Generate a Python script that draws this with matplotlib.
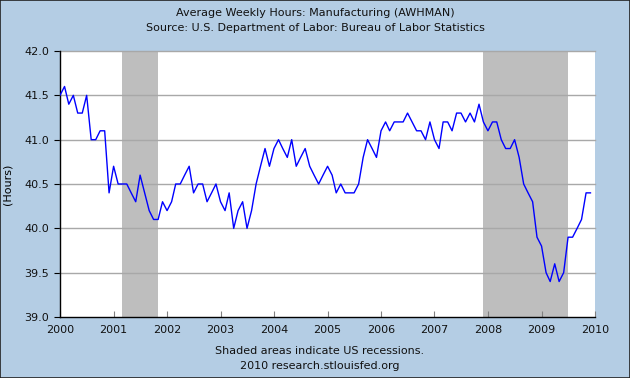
import matplotlib
matplotlib.use('Agg')
import matplotlib.pyplot as plt
import matplotlib.dates as mdates
from matplotlib.patches import Rectangle
import pandas as pd

# Monthly average weekly hours, Jan 2000 - Dec 2009
hours_2000 = [41.5, 41.6, 41.4, 41.5, 41.3, 41.3, 41.5, 41.0, 41.0, 41.1, 41.1, 40.4]
hours_2001 = [40.7, 40.5, 40.5, 40.5, 40.4, 40.3, 40.6, 40.4, 40.2, 40.1, 40.1, 40.3]
hours_2002 = [40.2, 40.3, 40.5, 40.5, 40.6, 40.7, 40.4, 40.5, 40.5, 40.3, 40.4, 40.5]
hours_2003 = [40.3, 40.2, 40.4, 40.0, 40.2, 40.3, 40.0, 40.2, 40.5, 40.7, 40.9, 40.7]
hours_2004 = [40.9, 41.0, 40.9, 40.8, 41.0, 40.7, 40.8, 40.9, 40.7, 40.6, 40.5, 40.6]
hours_2005 = [40.7, 40.6, 40.4, 40.5, 40.4, 40.4, 40.4, 40.5, 40.8, 41.0, 40.9, 40.8]
hours_2006 = [41.1, 41.2, 41.1, 41.2, 41.2, 41.2, 41.3, 41.2, 41.1, 41.1, 41.0, 41.2]
hours_2007 = [41.0, 40.9, 41.2, 41.2, 41.1, 41.3, 41.3, 41.2, 41.3, 41.2, 41.4, 41.2]
hours_2008 = [41.1, 41.2, 41.2, 41.0, 40.9, 40.9, 41.0, 40.8, 40.5, 40.4, 40.3, 39.9]
hours_2009 = [39.8, 39.5, 39.4, 39.6, 39.4, 39.5, 39.9, 39.9, 40.0, 40.1, 40.4, 40.4]

hours = (hours_2000 + hours_2001 + hours_2002 + hours_2003 + hours_2004 +
         hours_2005 + hours_2006 + hours_2007 + hours_2008 + hours_2009)
dates = pd.date_range('2000-01-01', periods=len(hours), freq='MS')

# NBER recessions (shaded)
recessions = [('2001-03-01', '2001-11-01'), ('2007-12-01', '2009-07-01')]

y_ticks = [39.0, 39.5, 40.0, 40.5, 41.0, 41.5, 42.0]
years = list(range(2000, 2011))

bg = '#b4cde4'
fig = plt.figure(figsize=(6.3, 3.78), dpi=100, facecolor=bg)
ax = fig.add_axes([60 / 630, 1 - 317 / 378, 535 / 630, 266 / 378])
ax.set_facecolor('white')

for start, end in recessions:
    ax.axvspan(pd.Timestamp(start), pd.Timestamp(end), color='#bebebe', lw=0, zorder=1)

for y in y_ticks[1:]:
    ax.axhline(y, color='#a8a8a8', lw=1, zorder=2, clip_on=False)

ax.plot(dates, hours, color='#0000ff', lw=1, zorder=3)

ax.set_xlim(pd.Timestamp('2000-01-01'), pd.Timestamp('2010-01-01'))
ax.set_ylim(39.0, 42.0)
ax.set_yticks(y_ticks)
ax.set_yticklabels([f'{v:.1f}' for v in y_ticks])
ax.set_xticks([pd.Timestamp(f'{yr}-01-01') for yr in years])
ax.xaxis.set_major_formatter(mdates.DateFormatter('%Y'))

ax.tick_params(axis='x', direction='in', length=4, width=0.8, color='#808080',
               labelsize=8, pad=6, labelcolor='#111111')
ax.tick_params(axis='y', direction='out', length=4, width=0.8, color='black',
               labelsize=8, pad=4, labelcolor='#111111')
for side in ['top', 'right']:
    ax.spines[side].set_visible(False)
ax.spines['left'].set_color('black')
ax.spines['bottom'].set_color('black')
ax.spines['left'].set_linewidth(1)
ax.spines['bottom'].set_linewidth(1)

ax.set_ylabel('(Hours)', fontsize=8)
ax.yaxis.set_label_coords(-47 / 535, 0.5)

fig.text(0.5, 1 - 13 / 378, 'Average Weekly Hours: Manufacturing (AWHMAN)',
         ha='center', va='center', fontsize=8, color='#111111')
fig.text(0.5, 1 - 28 / 378, 'Source: U.S. Department of Labor: Bureau of Labor Statistics',
         ha='center', va='center', fontsize=8, color='#111111')
fig.text(0.508, 1 - 351 / 378, 'Shaded areas indicate US recessions.',
         ha='center', va='center', fontsize=8, color='#111111')
fig.text(0.508, 1 - 366 / 378, '2010 research.stlouisfed.org',
         ha='center', va='center', fontsize=8, color='#111111')

# thin dark frame around the whole image
fig.patches.append(Rectangle((0, 0), 1, 1, transform=fig.transFigure, fill=False,
                             edgecolor='#222222', lw=1.2))

fig.savefig('out.png', dpi=100, facecolor=bg)
